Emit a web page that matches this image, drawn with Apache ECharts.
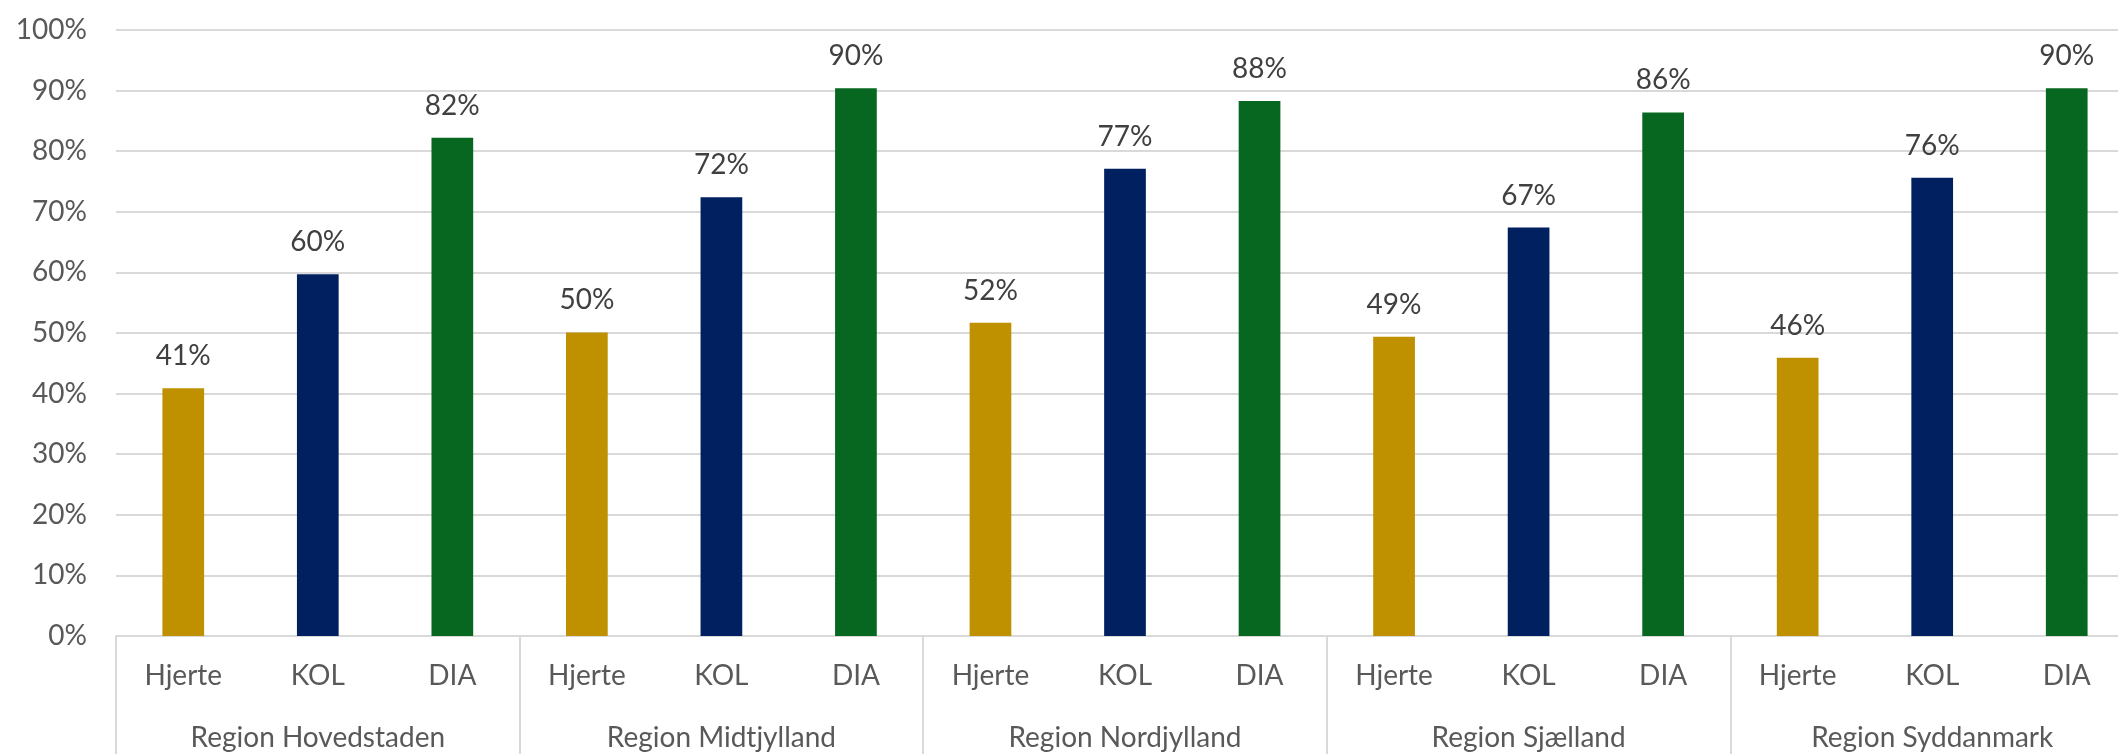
<!DOCTYPE html>
<html><head><meta charset="utf-8">
<script src="https://cdn.jsdelivr.net/npm/echarts@6/dist/echarts.min.js"></script>
<style>html,body{margin:0;padding:0;background:#fff;overflow:hidden}#c{width:2118px;height:754px}</style>
</head><body><div id="c"></div>
<script>
const regions = ['Region Hovedstaden','Region Midtjylland','Region Nordjylland','Region Sjælland','Region Syddanmark'];
const items = ['Hjerte','KOL','DIA'];
const hjerte = [40.9, 50.1, 51.7, 49.4, 45.9];
const kol = [59.7, 72.4, 77.1, 67.4, 75.6];
const dia = [82.2, 90.4, 88.3, 86.4, 90.4];
const yTicks = [0,10,20,30,40,50,60,70,80,90,100];

const colors = {Hjerte:'#BF9000', KOL:'#002060', DIA:'#07661F'};
const seriesVals = {Hjerte:hjerte, KOL:kol, DIA:dia};
const cats = [], data = [];
regions.forEach((r,ri)=>{ items.forEach(it=>{ cats.push(it); data.push({value:seriesVals[it][ri], itemStyle:{color:colors[it]}}); }); });

const FONT = 'Lato, "Noto Sans", sans-serif';
const chart = echarts.init(document.getElementById('c'));
chart.setOption({
  animation:false,
  grid:{left:116, width:2018, top:30, bottom:118, containLabel:false, outerBoundsMode:'none'},
  xAxis:[{
    type:'category', data:cats, position:'bottom',
    axisLine:{show:true, lineStyle:{color:'#d9d9d9', width:2}},
    axisTick:{show:false},
    axisLabel:{color:'#595959', fontFamily:FONT, fontSize:28, margin:26, interval:0}
  },{
    type:'category', data:regions, position:'bottom',
    axisLine:{show:false},
    axisTick:{show:true, length:120, alignWithLabel:false, lineStyle:{color:'#d9d9d9', width:2}},
    axisLabel:{color:'#595959', fontFamily:FONT, fontSize:28, margin:88, interval:0}
  }],
  yAxis:{
    type:'value', min:yTicks[0], max:yTicks[yTicks.length-1], interval:10,
    axisLine:{show:false}, axisTick:{show:false},
    splitLine:{lineStyle:{color:'#d9d9d9', width:2}},
    axisLabel:{color:'#595959', fontFamily:FONT, fontSize:28, margin:29, formatter: v=> v+'%'}
  },
  series:[{
    type:'bar', xAxisIndex:0, data:data, barWidth:'31%',
    label:{show:true, position:'top', distance:18, color:'#404040', fontFamily:FONT, fontSize:28,
      formatter: p=> Math.round(p.value)+'%'}
  }]
});
</script></body></html>
